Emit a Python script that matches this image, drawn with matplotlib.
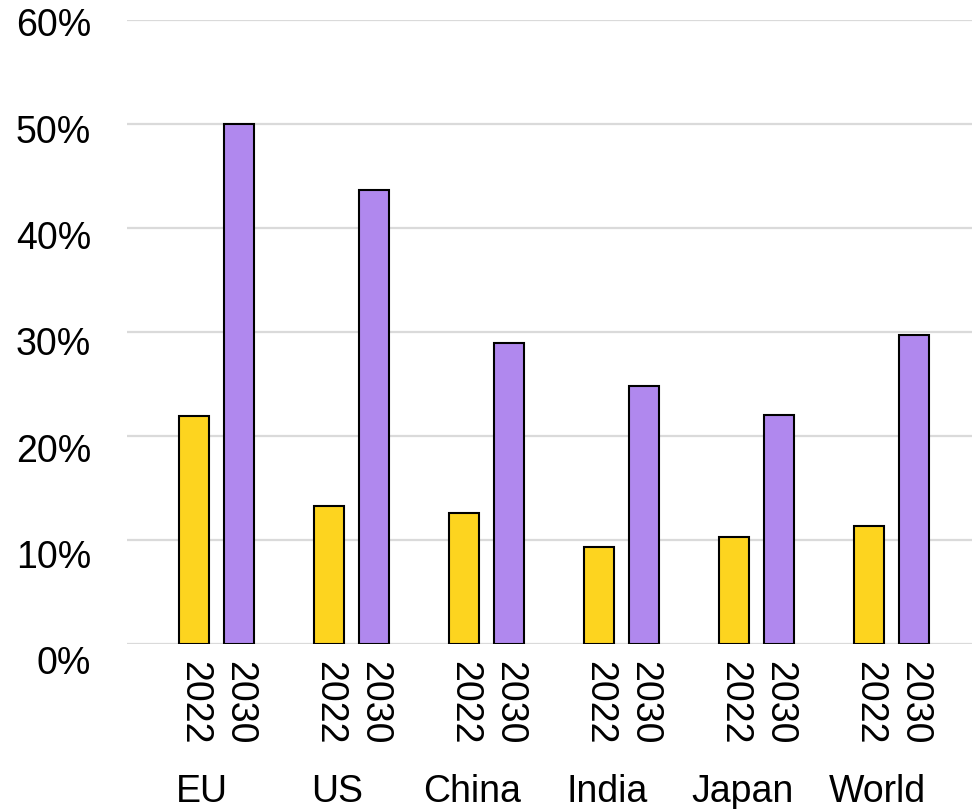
import matplotlib

matplotlib.use("Agg")
import matplotlib.pyplot as plt
import matplotlib.transforms as mtransforms
import numpy as np

regions = ["EU", "US", "China", "India", "Japan", "World"]
years = ["2022", "2030"]
share_2022 = [21.9, 13.3, 12.6, 9.3, 10.3, 11.3]
share_2030 = [50.0, 43.7, 28.9, 24.8, 22.0, 29.7]
yticks = [0, 10, 20, 30, 40, 50, 60]

YELLOW, PURPLE, GRID = "#FDD41F", "#B088EE", "#DADADA"
plt.rcParams["font.family"] = ["Liberation Sans", "DejaVu Sans"]

fig = plt.figure(figsize=(9.72, 8.09), dpi=100)
ax = fig.add_axes([127 / 972, 1 - 644 / 809, 845 / 972, 624 / 809])

x = np.arange(len(regions))
off, w = 0.1667, 0.222
ax.bar(x - off, share_2022, width=w, color=YELLOW, edgecolor="black", linewidth=1.5, zorder=3)
ax.bar(x + off, share_2030, width=w, color=PURPLE, edgecolor="black", linewidth=1.5, zorder=3)

ax.set_xlim(-0.663, 5.596)
ax.set_ylim(0, 60)
ax.set_yticks(yticks)
ax.set_yticklabels([f"{v}%" for v in yticks], fontsize=27)
ax.yaxis.grid(True, color=GRID, linewidth=1.6, zorder=0)
ax.tick_params(axis="y", length=0, pad=26)
# labels sit a little lower than their gridlines, more so towards the bottom
for v, lab in zip(yticks, ax.get_yticklabels()):
    dy = -(2.5 + 0.225 * (60 - v)) / 100
    lab.set_transform(lab.get_transform() + mtransforms.ScaledTranslation(0, dy, fig.dpi_scale_trans))

# year labels under each bar, category label under each pair
pos = np.concatenate([x - off, x + off])
ax.set_xticks(pos)
ax.set_xticklabels([years[0]] * len(x) + [years[1]] * len(x), rotation=-90, fontsize=27, va="top")
ax.tick_params(axis="x", length=0, pad=12)
for i, name in enumerate(regions):
    ax.text(i - 0.105, -0.253, name, transform=ax.get_xaxis_transform(),
            ha="center", va="baseline", fontsize=27)

for s in ax.spines.values():
    s.set_visible(False)

fig.savefig("out.png", dpi=100)
